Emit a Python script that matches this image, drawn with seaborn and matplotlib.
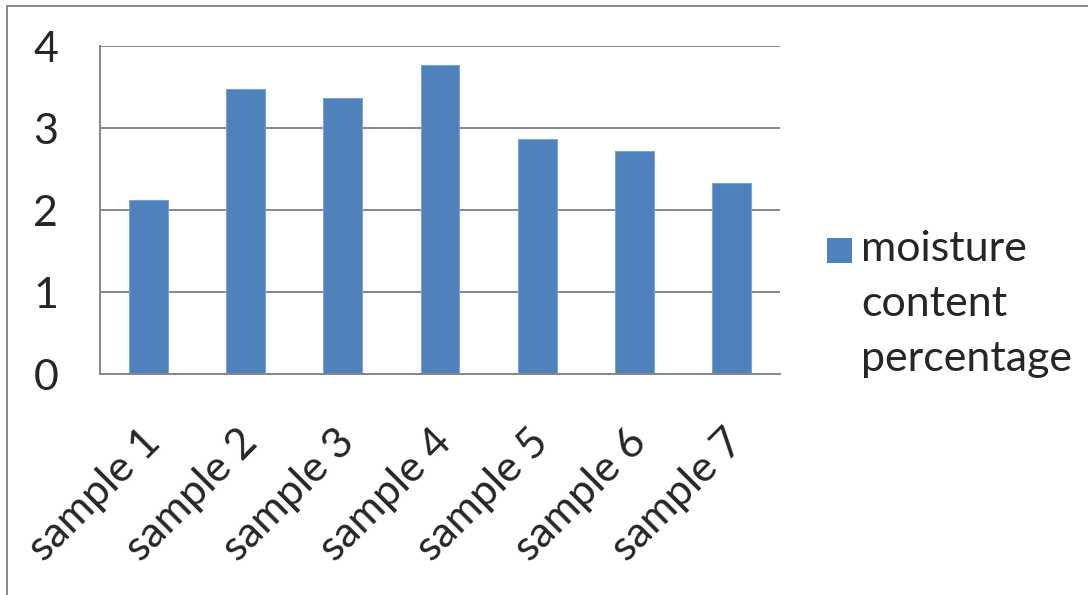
import matplotlib
matplotlib.use("Agg")
import matplotlib.pyplot as plt
import matplotlib.transforms as mtransforms
import seaborn as sns
import pandas as pd
from matplotlib.patches import Rectangle, Patch
from matplotlib.legend_handler import HandlerBase
from matplotlib.lines import Line2D

# Data
samples = ["sample 1", "sample 2", "sample 3", "sample 4",
           "sample 5", "sample 6", "sample 7"]
moisture = [2.12, 3.48, 3.37, 3.77, 2.86, 2.72, 2.33]
series_name = "moisture\ncontent\npercentage"

df = pd.DataFrame({"sample": samples, "moisture": moisture})

bar_color = "#4F81BD"
line_color = "#868686"
font_size = 31
line_pitch_pt = 54 * 72 / 100  # distance between legend text baselines

sns.set_style("white")
plt.rcParams["font.family"] = ["Lato", "DejaVu Sans"]


# Legend square sits next to the first line of the label, like Excel
class TopSquare(HandlerBase):
    def legend_artist(self, legend, orig_handle, fontsize, handlebox):
        s = handlebox.width
        p = Rectangle((-handlebox.xdescent, line_pitch_pt + 2), s, s,
                      facecolor=bar_color, edgecolor="none",
                      transform=handlebox.get_transform())
        handlebox.add_artist(p)
        return p


fig = plt.figure(figsize=(10.88, 5.95), dpi=100)
ax = fig.add_axes([100 / 1088, 1 - 374 / 595, 680 / 1088, 328 / 595])

sns.barplot(data=df, x="sample", y="moisture", color=bar_color,
            width=0.4, saturation=1, ax=ax, edgecolor="#7fa3d1", linewidth=0.8)

ax.set_xlim(-0.5, len(samples) - 0.5)
ax.set_ylim(0, 4)
ax.set_yticks([0, 1, 2, 3, 4])
ax.set_xlabel("")
ax.set_ylabel("")

# gridlines and spines
ax.yaxis.grid(True, color=line_color, linewidth=1.4)
ax.set_axisbelow(True)
for side in ["top", "right"]:
    ax.spines[side].set_visible(False)
for side in ["left", "bottom"]:
    ax.spines[side].set_color(line_color)
    ax.spines[side].set_linewidth(1.4)

# category boundary ticks on x, outward ticks on y
ax.set_xticks([i - 0.5 for i in range(len(samples) + 1)], minor=True)
ax.tick_params(axis="x", which="major", length=0, pad=35, labelsize=font_size)
ax.tick_params(axis="x", which="minor", length=14, width=1.4,
               color=line_color, direction="out")
ax.tick_params(axis="y", length=14, width=1.4, color=line_color,
               direction="out", pad=16, labelsize=font_size)
shift = mtransforms.ScaledTranslation(-8 / 100, 0, fig.dpi_scale_trans)
for lab in ax.get_xticklabels():
    lab.set_rotation(45)
    lab.set_ha("right")
    lab.set_rotation_mode("anchor")
    lab.set_transform(lab.get_transform() + shift)

# legend
leg = ax.legend(handles=[Patch(color=bar_color)], labels=[series_name],
                handler_map={Patch: TopSquare()},
                loc="upper left", bbox_to_anchor=(827 / 1088, 1 - 230 / 595),
                bbox_transform=fig.transFigure, frameon=False,
                fontsize=font_size, handlelength=0.58, handleheight=0.7,
                handletextpad=0.22, borderpad=0, borderaxespad=0)
for t in leg.get_texts():
    t.set_linespacing(1.55)

# chart area frame (only top and left edges are visible)
fig.add_artist(Line2D([7 / 1088, 1], [1 - 6 / 595, 1 - 6 / 595],
                      transform=fig.transFigure, color=line_color, linewidth=1.4))
fig.add_artist(Line2D([7 / 1088, 7 / 1088], [0, 1 - 6 / 595],
                      transform=fig.transFigure, color=line_color, linewidth=1.4))

fig.savefig("out.png", dpi=100)
